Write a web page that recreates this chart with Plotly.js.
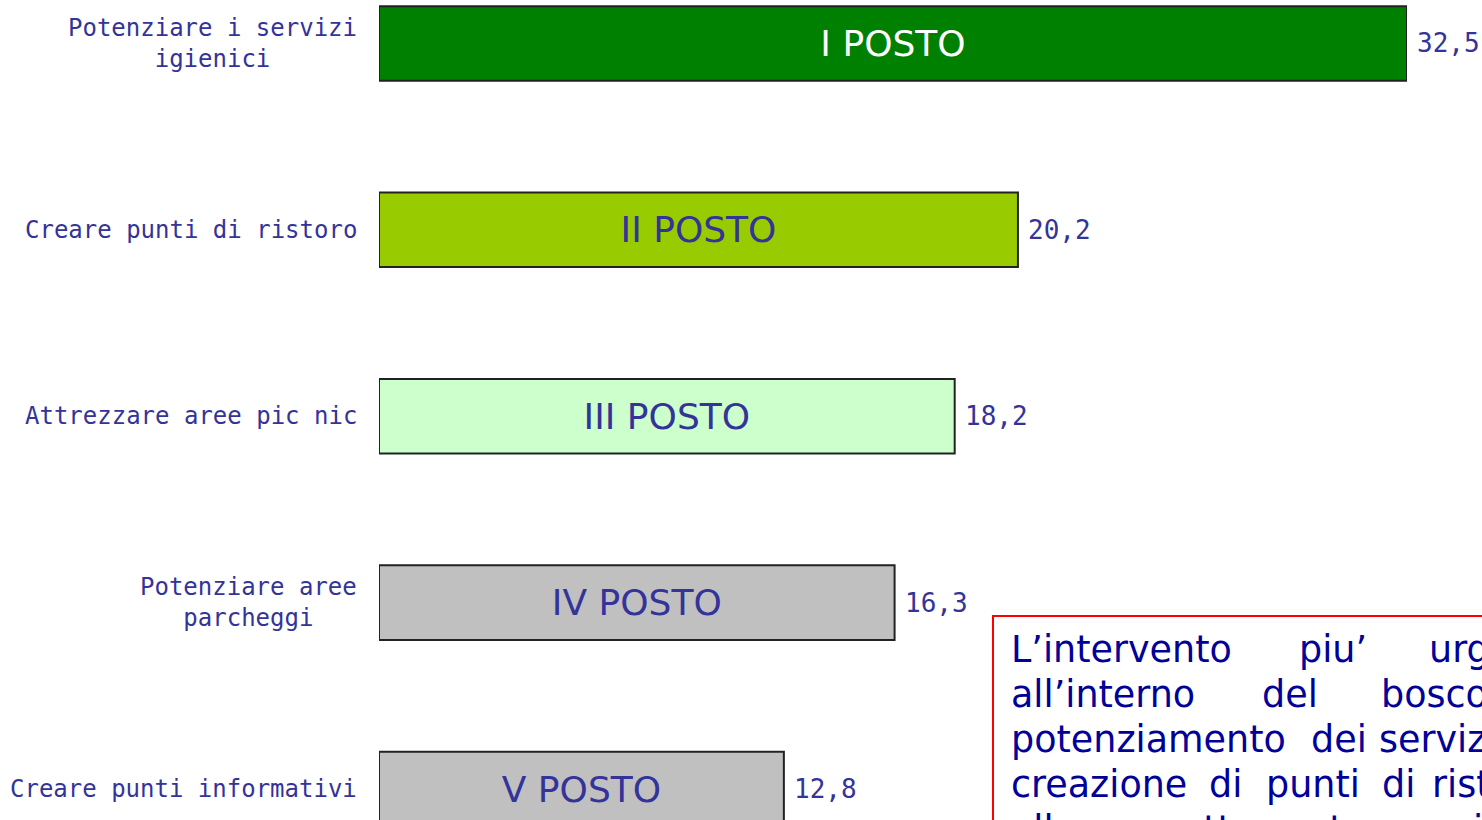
<!DOCTYPE html>
<html>
<head>
<meta charset="utf-8">
<script src="https://cdn.plot.ly/plotly-3.0.1.min.js"></script>
<style>
  html, body { margin: 0; padding: 0; background: #fff; }
  #chart { width: 1482px; height: 820px; }
</style>
</head>
<body>
<div id="chart"></div>
<script>
// interventi richiesti, in ordine di preferenza (percentuali)
var categorie = ['Potenziare i servizi<br>igienici', 'Creare punti di ristoro', 'Attrezzare aree pic nic', 'Potenziare aree<br>parcheggi', 'Creare punti informativi'];
var valori = [32.5, 20.2, 18.2, 16.3, 12.8];
var posti = ['I POSTO', 'II POSTO', 'III POSTO', 'IV POSTO', 'V POSTO'];

var coloriBarre = ['#008000', '#99cc00', '#ccffcc', '#c0c0c0', '#c0c0c0'];
var coloriTesto = ['#ffffff', '#333399', '#333399', '#333399', '#333399'];

// riquadro di commento (testo giustificato, esce dal bordo come nell'originale)
var righe = [
    ['L’intervento', 'piu’', 'urgente'],
    ['all’interno', 'del', 'bosco'],
    ['potenziamento', 'dei', 'servizi'],
    ['creazione', 'di', 'punti', 'di', 'ristoro'],
    ['alle aree attrezzate per pic nic']
];
var parolaX = [
    [1012, 1300, 1430],
    [1012, 1263, 1382],
    [1012, 1312, 1380],
    [1012, 1210, 1267, 1383, 1433],
    [1012]
];

var idx = [0, 1, 2, 3, 4];

var W = 1482, H = 820, L = 379, R = 75;
var plotW = W - L - R;
function px2paperX(px) { return (px - L) / plotW; }
function px2paperY(py) { return (H - py) / H; }

var dataBar = [
    {
        x: valori,
        y: idx,
        type: 'bar',
        orientation: 'h',
        width: 0.4,
        marker: {color: coloriBarre, line: {color: '#222', width: 2}},
        text: posti,
        textposition: 'inside',
        insidetextanchor: 'middle',
        constraintext: 'none',
        textfont: {family: 'DejaVu Sans', size: 36, color: coloriTesto},
        hoverinfo: 'none'
    }
];

var annotations = [];

// etichette delle categorie, centrate riga per riga
for (var i = 0; i < categorie.length; i++) {
    annotations.push({
        xref: 'paper', yref: 'y',
        x: 0, y: i,
        xanchor: 'right', yanchor: 'middle',
        xshift: -20,
        align: 'center',
        showarrow: false,
        text: categorie[i],
        font: {family: 'DejaVu Sans Mono', size: 24, color: '#333399'}
    });
    annotations.push({
        xref: 'x', yref: 'y',
        x: valori[i], y: i,
        xanchor: 'left', yanchor: 'middle',
        xshift: 8,
        showarrow: false,
        text: String(valori[i]).replace('.', ','),
        font: {family: 'DejaVu Sans Mono', size: 26, color: '#333399'}
    });
}

for (var r = 0; r < righe.length; r++) {
    for (var w = 0; w < righe[r].length; w++) {
        annotations.push({
            xref: 'paper', yref: 'paper',
            x: px2paperX(parolaX[r][w] - 3),
            y: px2paperY(663 + r * 45 - 14),
            xanchor: 'left', yanchor: 'middle',
            showarrow: false,
            text: righe[r][w],
            font: {family: 'DejaVu Sans', size: 36.5, color: '#000099'}
        });
    }
}

var layoutBar = {
    width: W,
    height: H,
    paper_bgcolor: '#fff',
    plot_bgcolor: '#fff',
    showlegend: false,
    margin: {l: L, r: R, t: 0, b: 0, pad: 0},
    xaxis: {range: [0, 32.5], visible: false, fixedrange: true},
    yaxis: {range: [4.166, -0.233], visible: false, fixedrange: true},
    shapes: [
        {
            type: 'rect', xref: 'paper', yref: 'paper',
            x0: px2paperX(993), x1: px2paperX(1600),
            y0: px2paperY(616), y1: px2paperY(900),
            line: {color: '#ff0000', width: 2},
            fillcolor: '#ffffff'
        }
    ],
    annotations: annotations
};

Plotly.newPlot('chart', dataBar, layoutBar, {displayModeBar: false, staticPlot: true});
</script>
</body>
</html>
